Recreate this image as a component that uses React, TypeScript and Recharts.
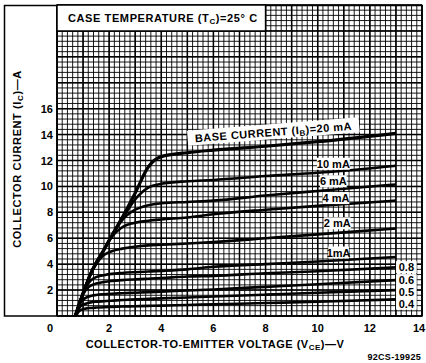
import React from 'react';
import {
  LineChart,
  Line,
  XAxis,
  YAxis,
  CartesianGrid,
  ReferenceArea,
  ReferenceDot,
  Customized,
} from 'recharts';

// collector-emitter voltage (V) sampled along every curve
const vce = [0.7, 0.9, 1.1, 1.3, 1.5, 1.8, 2.1, 2.5, 3.0, 3.5, 4.0, 5.0, 6.0, 8.0, 10.0, 13.0];

// collector current (A) for each base current
const ic20 = [0, 1.2, 2.3, 3.3, 4.1, 5.1, 6.2, 7.6, 9.5, 11.5, 12.3, 12.6, 12.8, 13.1, 13.45, 14.1];
const ic10 = [0, 1.2, 2.3, 3.3, 4.1, 5.1, 6.2, 7.5, 9.0, 9.9, 10.2, 10.4, 10.5, 10.8, 11.05, 11.6];
const ic6 = [0, 1.2, 2.3, 3.3, 4.1, 5.1, 6.2, 7.4, 8.2, 8.55, 8.7, 8.8, 8.9, 9.3, 9.65, 10.15];
const ic4 = [0, 1.2, 2.3, 3.3, 4.1, 5.1, 6.1, 6.85, 7.2, 7.35, 7.45, 7.6, 7.85, 8.2, 8.5, 8.9];
const ic2 = [0, 1.2, 2.3, 3.3, 4.0, 4.7, 5.0, 5.2, 5.35, 5.45, 5.5, 5.6, 5.7, 6.0, 6.3, 6.75];
const ic1 = [0, 1.2, 2.2, 2.75, 3.0, 3.15, 3.25, 3.32, 3.38, 3.43, 3.48, 3.6, 3.8, 4.0, 4.2, 4.55];
const ic08 = [0, 1.2, 2.0, 2.35, 2.5, 2.62, 2.7, 2.77, 2.83, 2.88, 2.93, 3.05, 3.1, 3.3, 3.45, 3.75];
const ic06 = [0, 1.0, 1.4, 1.55, 1.62, 1.68, 1.72, 1.76, 1.8, 1.84, 1.88, 1.97, 2.05, 2.25, 2.45, 2.77];
const ic05 = [0, 0.75, 0.95, 1.05, 1.1, 1.14, 1.18, 1.23, 1.28, 1.32, 1.36, 1.43, 1.5, 1.65, 1.8, 2.0];
const ic04 = [0, 0.45, 0.57, 0.62, 0.65, 0.68, 0.7, 0.73, 0.75, 0.78, 0.8, 0.85, 0.9, 1.0, 1.1, 1.28];

const xTicks = [0, 2, 4, 6, 8, 10, 12, 14];
const yTicks = [2, 4, 6, 8, 10, 12, 14, 16];

// curve labels: [text, vce, ic]
const curveLabels: [string, number, number][] = [
  ['10 mA', 10.6, 11.75],
  ['6 mA', 10.6, 10.4],
  ['4 mA', 10.7, 9.1],
  ['2 mA', 10.75, 7.15],
  ['1mA', 10.8, 4.9],
  ['0.8', 13.4, 3.77],
  ['0.6', 13.4, 2.77],
  ['0.5', 13.4, 1.85],
  ['0.4', 13.4, 0.95],
];

const data = vce.map((v, k) => ({
  v,
  i20: ic20[k],
  i10: ic10[k],
  i6: ic6[k],
  i4: ic4[k],
  i2: ic2[k],
  i1: ic1[k],
  i08: ic08[k],
  i06: ic06[k],
  i05: ic05[k],
  i04: ic04[k],
}));

const series = ['i20', 'i10', 'i6', 'i4', 'i2', 'i1', 'i08', 'i06', 'i05', 'i04'];

// graph paper
const fineV = Array.from({ length: 71 }, (_, k) => +(k * 0.2).toFixed(1));
const fineH = Array.from({ length: 61 }, (_, k) => +(k * 0.4).toFixed(1));
const majorV = Array.from({ length: 15 }, (_, k) => k);
const majorH = Array.from({ length: 13 }, (_, k) => k * 2);

const FONT = '"Liberation Sans", Arial, sans-serif';

function XTick({ x, y, payload }: any) {
  const dx = payload.value === 0 ? -7 : payload.value === 14 ? -3 : 0;
  return (
    <text x={x + dx} y={y + 8} textAnchor="middle" fontFamily={FONT} fontSize={11} fontWeight="bold" fill="#000">
      {payload.value}
    </text>
  );
}

function YTick({ x, y, payload }: any) {
  return (
    <text x={x + 4} y={y + 4} textAnchor="end" fontFamily={FONT} fontSize={11} fontWeight="bold" fill="#000">
      {payload.value}
    </text>
  );
}

function TitleLabel({ viewBox }: any) {
  return (
    <text x={viewBox.x + 11} y={viewBox.y + 17} fontFamily={FONT} fontSize={11} fontWeight="bold" fill="#000" letterSpacing={0.6}>
      CASE TEMPERATURE (T<tspan fontSize={8} dy={2}>C</tspan>
      <tspan dy={-2}>)=25° C</tspan>
    </text>
  );
}

function makeTag(text: string) {
  return ({ cx, cy }: any) => {
    const w = text.length * 6.2 + 2;
    return (
      <g>
        <rect x={cx - w / 2} y={cy - 6} width={w} height={12} fill="#fff" />
        <text x={cx} y={cy + 4} textAnchor="middle" fontFamily={FONT} fontSize={11} fontWeight="bold" fill="#000">
          {text}
        </text>
      </g>
    );
  };
}

function BaseTag({ cx, cy }: any) {
  return (
    <g transform={`rotate(-4.5 ${cx} ${cy})`}>
      <rect x={cx - 86} y={cy - 8} width={172} height={15} fill="#fff" />
      <text x={cx} y={cy + 4} textAnchor="middle" fontFamily={FONT} fontSize={11} fontWeight="bold" fill="#000" letterSpacing={0.5}>
        BASE CURRENT (I<tspan fontSize={8} dy={2}>B</tspan>
        <tspan dy={-2}>)=20 mA</tspan>
      </text>
    </g>
  );
}

function Frame() {
  return (
    <g>
      <rect x={4.5} y={5.5} width={417.5} height={310.5} fill="none" stroke="#000" strokeWidth={1.5} />
      <line x1={57} y1={5} x2={57} y2={316} stroke="#000" strokeWidth={1.5} />
      <text transform="translate(21,159) rotate(-90)" textAnchor="middle" fontFamily={FONT} fontSize={11} fontWeight="bold" fill="#000" letterSpacing={0.6}>
        COLLECTOR CURRENT (I<tspan fontSize={8} dy={2}>C</tspan>
        <tspan dy={-2}>)—A</tspan>
      </text>
      <text x={215} y={348} textAnchor="middle" fontFamily={FONT} fontSize={11} fontWeight="bold" fill="#000" letterSpacing={0.5}>
        COLLECTOR-TO-EMITTER VOLTAGE (V<tspan fontSize={8} dy={2}>CE</tspan>
        <tspan dy={-2}>)—V</tspan>
      </text>
      <text x={421} y={360} textAnchor="end" fontFamily={FONT} fontSize={9} fontWeight="bold" fill="#000" letterSpacing={0.3}>
        92CS-19925
      </text>
    </g>
  );
}

export default function App() {
  return (
    <div style={{ position: 'absolute', left: 0, top: 0, background: '#fff' }}>
      <LineChart width={426} height={363} data={data} margin={{ top: 5, right: 4, bottom: 27, left: 37 }}>
        <XAxis
          dataKey="v"
          type="number"
          domain={[0, 14]}
          ticks={xTicks}
          height={20}
          axisLine={false}
          tickLine={false}
          tick={<XTick />}
          interval={0}
        />
        <YAxis
          type="number"
          domain={[0, 24]}
          ticks={yTicks}
          width={20}
          axisLine={false}
          tickLine={false}
          tick={<YTick />}
          interval={0}
        />
        <CartesianGrid verticalValues={fineV} horizontalValues={fineH} stroke="#000" strokeWidth={0.9} />
        <CartesianGrid verticalValues={majorV} horizontalValues={majorH} stroke="#000" strokeWidth={1.5} />
        <ReferenceArea
          x1={0}
          x2={8}
          y1={22}
          y2={24}
          fill="#fff"
          fillOpacity={1}
          stroke="#000"
          strokeWidth={1.5}
          label={<TitleLabel />}
        />
        {series.map((key) => (
          <Line
            key={key}
            dataKey={key}
            type="monotone"
            stroke="#000"
            strokeWidth={key === 'i20' ? 3.2 : 2.6}
            dot={false}
            isAnimationActive={false}
          />
        ))}
        <ReferenceDot x={8.3} y={14.2} r={1} shape={<BaseTag />} />
        {curveLabels.map(([text, v, i]) => (
          <ReferenceDot key={text} x={v} y={i} r={1} shape={makeTag(text)} />
        ))}
        <Customized component={Frame} />
      </LineChart>
    </div>
  );
}
